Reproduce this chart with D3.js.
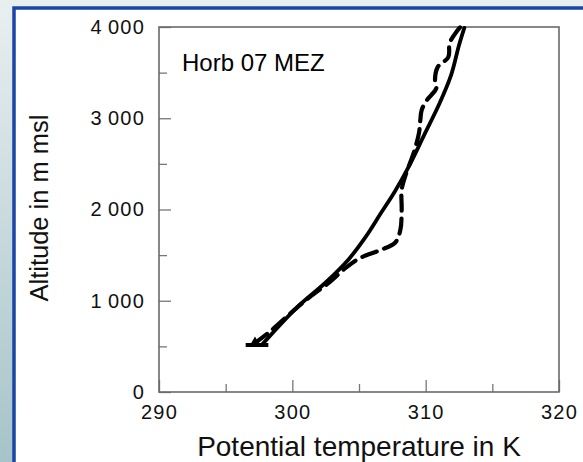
<!DOCTYPE html>
<html>
<head>
<meta charset="utf-8">
<script src="https://cdn.jsdelivr.net/npm/d3@7"></script>
<style>
  body { margin: 0; }
  svg { display: block; font-family: "Liberation Sans", Arial, sans-serif; }
</style>
</head>
<body>
<div id="chart"></div>
<script>
// Data: potential temperature (K) vs altitude (m msl)
const solidTheta = [297.7, 300.3, 302.5, 304.2, 305.5, 306.6, 307.7, 308.8, 309.9, 311.0, 311.9, 312.5, 312.9];
const solidAlt   = [515, 920, 1200, 1450, 1700, 1950, 2200, 2490, 2820, 3150, 3470, 3800, 3990];

const dashTheta = [297.2, 298.3, 299.8, 301.3, 302.8, 304.0, 305.1, 306.6, 307.7, 308.1, 308.2, 308.2, 308.5, 309.1, 309.5, 309.6, 309.7, 310.1, 310.8, 310.7, 310.9, 311.7, 311.8, 312.4, 312.6];
const dashAlt   = [537, 660, 855, 1040, 1205, 1360, 1470, 1555, 1635, 1775, 1995, 2215, 2380, 2620, 2840, 2980, 3090, 3200, 3330, 3420, 3560, 3670, 3825, 3965, 4000];

const groundTheta = [296.5, 298.2];
const groundAlt = 515;

const xMajor = [290, 300, 310, 320];
const xMinor = [295, 305, 315];
const yMajor = [0, 1000, 2000, 3000, 4000];
const yMinor = [500, 1500, 2500, 3500];

// Dimensions
const width = 583;
const height = 462;
const margin = { top: 27, right: 24, bottom: 70, left: 159 };

const svg = d3.select("#chart")
    .append("svg")
    .attr("width", width)
    .attr("height", height);

// fons
const defs = svg.append("defs");
const grad = defs.append("linearGradient")
    .attr("id", "bg").attr("x1", 0).attr("y1", 0).attr("x2", 0).attr("y2", 1);
grad.append("stop").attr("offset", "0%").attr("stop-color", "#e9eff0");
grad.append("stop").attr("offset", "100%").attr("stop-color", "#a6c4c9");

svg.append("rect").attr("width", width).attr("height", height).attr("fill", "url(#bg)");
svg.append("rect")
    .attr("x", 14).attr("y", 8)
    .attr("width", width + 20).attr("height", height + 20)
    .attr("fill", "#fff")
    .attr("stroke", "#1a46a5")
    .attr("stroke-width", 3.5);

// Escales
const x = d3.scaleLinear()
    .domain([290, 320])
    .range([margin.left, width - margin.right]);

const y = d3.scaleLinear()
    .domain([0, 4000])
    .range([height - margin.bottom, margin.top]);

const fmt = d => d >= 1000 ? `${Math.floor(d / 1000)}\u2009${String(d % 1000).padStart(3, "0")}` : `${d}`;

// eix X
const gx = svg.append("g")
    .attr("transform", `translate(0,${y(0)})`)
    .call(d3.axisBottom(x).tickValues(xMajor).tickSize(-12).tickPadding(13).tickFormat(d => d));
gx.append("g")
    .call(d3.axisBottom(x).tickValues(xMinor).tickSize(-8).tickFormat(""));

// eix Y
const gy = svg.append("g")
    .attr("transform", `translate(${x(290)},0)`)
    .call(d3.axisLeft(y).tickValues(yMajor).tickSize(-12).tickPadding(14).tickFormat(fmt));
gy.append("g")
    .call(d3.axisLeft(y).tickValues(yMinor).tickSize(-8).tickFormat(""));

svg.selectAll(".domain").remove();
svg.selectAll(".tick line").attr("stroke", "#777").attr("stroke-width", 1.3);
svg.selectAll(".tick text")
    .attr("fill", "#111")
    .style("font-size", "20px")
    .style("letter-spacing", "1.2px")
    .style("font-family", "'Liberation Sans', Arial, sans-serif");

// marc
svg.append("rect")
    .attr("x", x(290)).attr("y", y(4000))
    .attr("width", x(320) - x(290)).attr("height", y(0) - y(4000))
    .attr("fill", "none")
    .attr("stroke", "#6a6a6a")
    .attr("stroke-width", 1.6);

// línies
const solid = solidTheta.map((t, i) => [t, solidAlt[i]]);
const dashed = dashTheta.map((t, i) => [t, dashAlt[i]]);

const line = d3.line()
    .x(d => x(d[0]))
    .y(d => y(d[1]))
    .curve(d3.curveCatmullRom.alpha(0.5));

svg.append("path")
    .datum(solid)
    .attr("d", line)
    .attr("fill", "none")
    .attr("stroke", "#000")
    .attr("stroke-width", 3.8)
    .attr("stroke-linecap", "round");

svg.append("path")
    .datum(dashed)
    .attr("d", line)
    .attr("fill", "none")
    .attr("stroke", "#000")
    .attr("stroke-width", 4.2)
    .attr("stroke-linecap", "round")
    .attr("stroke-dasharray", "15,8");

// terra
svg.append("line")
    .attr("x1", x(groundTheta[0])).attr("x2", x(groundTheta[1]))
    .attr("y1", y(groundAlt)).attr("y2", y(groundAlt))
    .attr("stroke", "#000")
    .attr("stroke-width", 4);

svg.append("path")
    .attr("d", d3.symbol().type(d3.symbolTriangle).size(40))
    .attr("transform", `translate(${x(dashTheta[0])},${y(groundAlt) - 3})`)
    .attr("fill", "#000");

// textos
svg.append("text")
    .attr("x", 182)
    .attr("y", 71)
    .style("font-size", "24px")
    .attr("fill", "#000")
    .text("Horb 07 MEZ");

svg.append("text")
    .attr("x", (x(290) + x(320)) / 2)
    .attr("y", 456)
    .attr("text-anchor", "middle")
    .style("font-size", "28px")
    .attr("fill", "#111")
    .text("Potential temperature in K");

svg.append("text")
    .attr("transform", `translate(48,208) rotate(-90)`)
    .attr("text-anchor", "middle")
    .style("font-size", "25.5px")
    .attr("fill", "#111")
    .text("Altitude in m msl");
</script>
</body>
</html>
